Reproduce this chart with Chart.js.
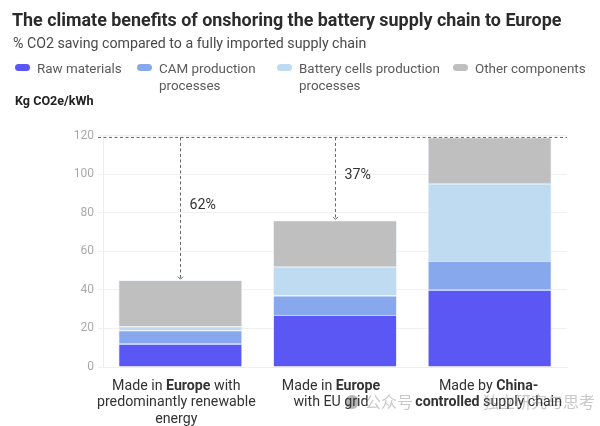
<!DOCTYPE html>
<html>
<head>
<meta charset="utf-8">
<style>
    html, body { margin: 0; padding: 0; background: #fff; }
    body { width: 600px; height: 426px; position: relative; overflow: hidden; font-family: Roboto, sans-serif; }
    #title { position: absolute; left: 12px; top: 9px; font-size: 17.9px; font-weight: 700; color: #2b2b2b; white-space: nowrap; }
    #subtitle { position: absolute; left: 13px; top: 35px; font-size: 14.2px; color: #4a4a4a; white-space: nowrap; }
    #unit { position: absolute; left: 15px; top: 93px; font-size: 12.6px; font-weight: 700; color: #222; white-space: nowrap; }
    .legend-item { position: absolute; top: 60px; font-size: 13.4px; line-height: 17px; color: #5a5a5a; white-space: nowrap; }
    .legend-swatch { position: absolute; width: 15px; height: 7px; border-radius: 4px; }
    #chart-wrap { position: absolute; left: 0; top: 0; width: 600px; height: 426px; }
</style>
</head>
<body>
<div id="chart-wrap"><canvas id="chart" width="600" height="426"></canvas></div>
<div id="title">The climate benefits of onshoring the battery supply chain to Europe</div>
<div id="subtitle">% CO2 saving compared to a fully imported supply chain</div>
<div id="legend"></div>
<div id="unit">Kg CO2e/kWh</div>
<script src="https://cdn.jsdelivr.net/npm/chart.js@4"></script>
<script>
// data
const categories = ['Europe renewable', 'Europe EU grid', 'China-controlled'];
const rawMaterials = [12, 27, 40];
const camProcesses = [7, 10, 15];
const cellProcesses = [2, 15, 40];
const otherComponents = [24, 24, 24];
const yTicks = [0, 20, 40, 60, 80, 100, 120];

const seriesNames = ['Raw materials', 'CAM production|processes', 'Battery cells production|processes', 'Other components'];
const seriesColors = ['#5b57f5', '#88a8ee', '#bedbf2', '#bfbfbf'];
const legendLeft = [37, 159, 299, 475];

// reference line level and the savings arrows
const referenceLevel = 119;
const savingLabels = ['62%', '37%'];
const savingTotals = [45, 76];
const savingLabelLevels = [83.5, 99.5];

// [text, bold] runs for every line of the category labels
const categoryLabels = [
    [[['Made in ', false], ['Europe', true], [' with', false]], [['predominantly renewable', false]], [['energy', false]]],
    [[['Made in ', false], ['Europe', true]], [['with EU grid', false]]],
    [[['Made by ', false], ['China-', true]], [['controlled', true], [' supply chain', false]]]
];
const labelShift = [-4, -4, -1];

// HTML legend
function buildLegend() {
    const legend = document.getElementById('legend');
    seriesNames.forEach((name, i) => {
        const swatch = document.createElement('div');
        swatch.className = 'legend-swatch';
        swatch.style.left = (legendLeft[i] - 22) + 'px';
        swatch.style.top = '64px';
        swatch.style.background = seriesColors[i];
        legend.appendChild(swatch);
        const item = document.createElement('div');
        item.className = 'legend-item';
        item.style.left = legendLeft[i] + 'px';
        item.innerHTML = name.split('|').join('<br>');
        legend.appendChild(item);
    });
}

// faint watermark of the source picture, under the labels
function drawWatermark(ctx) {
    ctx.save();
    ctx.fillStyle = '#b5b5b5';
    ctx.beginPath();
    ctx.arc(352, 402, 7, 0, Math.PI * 2);
    ctx.fill();
    ctx.fillStyle = '#c9c9c9';
    ctx.font = '16px "Noto Sans CJK SC"';
    ctx.textAlign = 'left';
    ctx.textBaseline = 'alphabetic';
    ctx.fillText('公众号', 365, 408);
    ctx.fillText('独立研究与思考', 483, 408);
    ctx.restore();
}

// category labels with mixed weights, drawn under the x axis
const categoryLabelPlugin = {
    id: 'categoryLabels',
    afterDraw(chart) {
        const ctx = chart.ctx;
        const x = chart.scales.x;
        const regular = '14.2px Roboto';
        const bold = 'bold 14.2px Roboto';
        drawWatermark(ctx);
        ctx.save();
        ctx.fillStyle = '#333';
        ctx.textAlign = 'left';
        ctx.textBaseline = 'alphabetic';
        categoryLabels.forEach((lines, i) => {
            const center = x.getPixelForValue(i) + labelShift[i];
            lines.forEach((runs, l) => {
                let width = 0;
                runs.forEach(r => {
                    ctx.font = r[1] ? bold : regular;
                    width += ctx.measureText(r[0]).width;
                });
                let pos = center - width / 2;
                runs.forEach(r => {
                    ctx.font = r[1] ? bold : regular;
                    ctx.fillText(r[0], pos, 390 + l * 16.3);
                    pos += ctx.measureText(r[0]).width;
                });
            });
        });
        ctx.restore();
    }
};

// dashed reference line, arrows and percentages
const savingsPlugin = {
    id: 'savings',
    afterDatasetsDraw(chart) {
        const ctx = chart.ctx;
        const x = chart.scales.x;
        const y = chart.scales.y;
        const top = y.getPixelForValue(referenceLevel);
        ctx.save();
        ctx.strokeStyle = '#666';
        ctx.lineWidth = 1;
        ctx.setLineDash([3, 2.5]);
        ctx.beginPath();
        ctx.moveTo(x.left - 5, top);
        ctx.lineTo(x.right, top);
        ctx.stroke();
        savingTotals.forEach((total, i) => {
            const cx = Math.round(x.getPixelForValue(i)) + 0.5;
            const end = y.getPixelForValue(total) - 1;
            ctx.setLineDash([3, 2.5]);
            ctx.beginPath();
            ctx.moveTo(cx, top);
            ctx.lineTo(cx, end);
            ctx.stroke();
            ctx.setLineDash([]);
            ctx.beginPath();
            ctx.moveTo(cx - 2.5, end - 2.5);
            ctx.lineTo(cx, end);
            ctx.lineTo(cx + 2.5, end - 2.5);
            ctx.stroke();
            ctx.fillStyle = '#333';
            ctx.font = '14.2px Roboto';
            ctx.textAlign = 'left';
            ctx.textBaseline = 'middle';
            ctx.fillText(savingLabels[i], cx + 9, y.getPixelForValue(savingLabelLevels[i]));
        });
        ctx.restore();
    }
};

buildLegend();

const values = [rawMaterials, camProcesses, cellProcesses, otherComponents];

new Chart(document.getElementById('chart').getContext('2d'), {
    type: 'bar',
    data: {
        labels: categories,
        datasets: values.map((data, i) => ({
            label: seriesNames[i].replace('|', ' '),
            data: data,
            backgroundColor: seriesColors[i],
            borderColor: '#e6eefc',
            borderWidth: 0.8,
            categoryPercentage: 0.8,
            barPercentage: 1
        }))
    },
    options: {
        responsive: false,
        animation: false,
        devicePixelRatio: 1,
        layout: { padding: { left: 0, right: 33, top: 135.5, bottom: 59 } },
        plugins: { legend: { display: false }, title: { display: false }, tooltip: { enabled: false } },
        scales: {
            x: {
                stacked: true,
                afterFit(axis) { axis.height = 0; },
                grid: { drawOnChartArea: false, drawTicks: false },
                border: { color: '#eeeeee' },
                ticks: { display: false }
            },
            y: {
                stacked: true,
                min: 0,
                max: 120,
                afterBuildTicks(axis) { axis.ticks = yTicks.map(v => ({ value: v })); },
                afterFit(axis) { axis.width = 103; },
                grid: { color: '#f0f0f0', tickLength: 5 },
                border: { color: '#eeeeee' },
                ticks: { color: '#a9a9a9', font: { family: 'Roboto', size: 12 }, padding: 4 }
            }
        }
    },
    plugins: [categoryLabelPlugin, savingsPlugin]
});
</script>
</body>
</html>
